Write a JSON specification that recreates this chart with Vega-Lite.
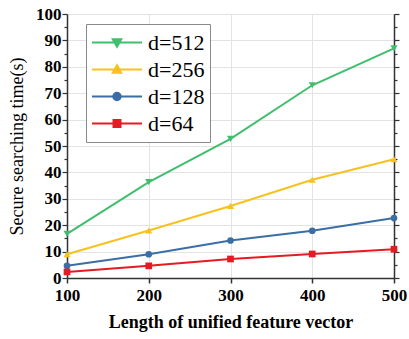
{
  "$schema": "https://vega.github.io/schema/vega-lite/v6.json",
  "width": 327,
  "height": 264,
  "autosize": "none",
  "padding": {"left": 67, "top": 14, "right": 15, "bottom": 61},
  "background": "white",
  "config": {"view": {"stroke": null}, "font": "Liberation Serif"},
  "data": {
    "values": [
      {"length": 100, "time": 16.7, "d": "d=512"},
      {"length": 200, "time": 36.3, "d": "d=512"},
      {"length": 300, "time": 52.7, "d": "d=512"},
      {"length": 400, "time": 73.0, "d": "d=512"},
      {"length": 500, "time": 87.0, "d": "d=512"},
      {"length": 100, "time": 9.0, "d": "d=256"},
      {"length": 200, "time": 18.0, "d": "d=256"},
      {"length": 300, "time": 27.3, "d": "d=256"},
      {"length": 400, "time": 37.2, "d": "d=256"},
      {"length": 500, "time": 45.0, "d": "d=256"},
      {"length": 100, "time": 4.6, "d": "d=128"},
      {"length": 200, "time": 9.0, "d": "d=128"},
      {"length": 300, "time": 14.2, "d": "d=128"},
      {"length": 400, "time": 17.9, "d": "d=128"},
      {"length": 500, "time": 22.7, "d": "d=128"},
      {"length": 100, "time": 2.3, "d": "d=64"},
      {"length": 200, "time": 4.6, "d": "d=64"},
      {"length": 300, "time": 7.2, "d": "d=64"},
      {"length": 400, "time": 9.1, "d": "d=64"},
      {"length": 500, "time": 10.9, "d": "d=64"}
    ]
  },
  "encoding": {
    "x": {
      "field": "length",
      "type": "quantitative",
      "scale": {"domain": [100, 500], "nice": false, "zero": false},
      "axis": {
        "values": [100, 200, 300, 400, 500],
        "title": "Length of unified feature vector",
        "titleFont": "Liberation Serif",
        "titleFontSize": 18,
        "titleFontWeight": "bold",
        "titleColor": "black",
        "titlePadding": 10,
        "labelFont": "Liberation Serif",
        "labelFontSize": 17,
        "labelFontWeight": "bold",
        "labelColor": "black",
        "labelPadding": 4,
        "labelFlush": false,
        "domainColor": "#333333",
        "domainWidth": 1.5,
        "tickColor": "#333333",
        "tickWidth": 1.5,
        "tickSize": 5,
        "grid": true,
        "gridColor": "#e3e3e3",
        "gridWidth": 1
      }
    },
    "color": {
      "field": "d",
      "type": "nominal",
      "sort": ["d=512", "d=256", "d=128", "d=64"],
      "scale": {
        "domain": ["d=512", "d=256", "d=128", "d=64"],
        "range": ["#3fbf6d", "#f7c21e", "#3b6ea6", "#e41b22"]
      },
      "legend": {
        "orient": "none",
        "legendX": 19,
        "legendY": 10,
        "title": null,
        "strokeColor": "#8a8a8a",
        "fillColor": "white",
        "padding": 5,
        "labelFont": "Liberation Serif",
        "labelFontSize": 22,
        "labelColor": "black",
        "labelOffset": 5,
        "symbolSize": 2500,
        "symbolStrokeWidth": 2,
        "clipHeight": 27,
        "rowPadding": 0,
        "encode": {
          "symbols": {
            "update": {
              "shape": {"signal": "datum.value === 'd=512' ? 'M-1,0H1M-0.17,-0.13H0.17L0,0.17Z' : datum.value === 'd=256' ? 'M-1,0H1M-0.17,0.13H0.17L0,-0.17Z' : datum.value === 'd=128' ? 'M-1,0H1M0.15,0A0.15,0.15,0,1,1,-0.15,0A0.15,0.15,0,1,1,0.15,0Z' : 'M-1,0H1M-0.14,-0.14H0.14V0.14H-0.14Z'"},
              "fill": {"signal": "scale('color', datum.value)"},
              "stroke": {"signal": "scale('color', datum.value)"},
              "size": {"value": 2500},
              "opacity": {"value": 1},
              "strokeWidth": {"value": 2}
            }
          }
        }
      }
    }
  },
  "layer": [
    {
      "mark": {"type": "line", "strokeWidth": 2},
      "encoding": {
        "y": {
          "field": "time",
          "type": "quantitative",
          "scale": {"domain": [0, 100], "nice": false},
          "axis": {
            "orient": "left",
            "values": [0,5,10,15,20,25,30,35,40,45,50,55,60,65,70,75,80,85,90,95,100],
            "labelExpr": "datum.value % 10 === 0 ? datum.label : ''",
            "title": "Secure searching time(s)",
            "titleFont": "Liberation Serif",
            "titleFontSize": 18,
            "titleFontWeight": "normal",
            "titleColor": "black",
            "titlePadding": 9,
            "labelFont": "Liberation Serif",
            "labelFontSize": 17,
            "labelFontWeight": "bold",
            "labelColor": "black",
            "labelPadding": 1,
            "labelFlush": false,
            "domainColor": "#333333",
            "domainWidth": 1.5,
            "tickColor": "#333333",
            "tickWidth": 1.2,
            "tickSize": {"condition": {"test": "datum.value % 10 === 0", "value": 5}, "value": 3},
            "grid": true,
            "gridColor": "#e3e3e3",
            "gridWidth": 1,
            "gridOpacity": {"condition": {"test": "datum.value % 10 === 0", "value": 1}, "value": 0}
          }
        }
      }
    },
    {
      "transform": [{"filter": "datum.d === 'd=512'"}],
      "mark": {"type": "point", "filled": true, "size": 50, "opacity": 1, "shape": "triangle-down"},
      "encoding": {
        "y": {
          "field": "time",
          "type": "quantitative",
          "scale": {"domain": [0, 100], "nice": false},
          "axis": {
            "values": [0,5,10,15,20,25,30,35,40,45,50,55,60,65,70,75,80,85,90,95,100],
            "labelExpr": "datum.value % 10 === 0 ? datum.label : ''",
            "title": "Secure searching time(s)",
            "titleFont": "Liberation Serif",
            "titleFontSize": 18,
            "titleFontWeight": "normal",
            "titleColor": "white",
            "titlePadding": 9,
            "labelFont": "Liberation Serif",
            "labelFontSize": 17,
            "labelFontWeight": "bold",
            "labelColor": "white",
            "labelPadding": 1,
            "labelFlush": false,
            "domainColor": "#333333",
            "domainWidth": 1.5,
            "tickColor": "#333333",
            "tickWidth": 1.2,
            "tickSize": {"condition": {"test": "datum.value % 10 === 0", "value": 5}, "value": 3},
            "grid": true,
            "gridColor": "#e3e3e3",
            "gridWidth": 1,
            "gridOpacity": {"condition": {"test": "datum.value % 10 === 0", "value": 1}, "value": 0}
          }
        }
      }
    },
    {
      "transform": [{"filter": "datum.d === 'd=256'"}],
      "mark": {"type": "point", "filled": true, "size": 50, "opacity": 1, "shape": "triangle-up"},
      "encoding": {"y": {"field": "time", "type": "quantitative", "axis": null}}
    },
    {
      "transform": [{"filter": "datum.d === 'd=128'"}],
      "mark": {"type": "point", "filled": true, "size": 45, "opacity": 1, "shape": "circle"},
      "encoding": {"y": {"field": "time", "type": "quantitative", "axis": null}}
    },
    {
      "transform": [{"filter": "datum.d === 'd=64'"}],
      "mark": {"type": "point", "filled": true, "size": 45, "opacity": 1, "shape": "square"},
      "encoding": {"y": {"field": "time", "type": "quantitative", "axis": null}}
    }
  ],
  "resolve": {"axis": {"y": "independent"}}
}
